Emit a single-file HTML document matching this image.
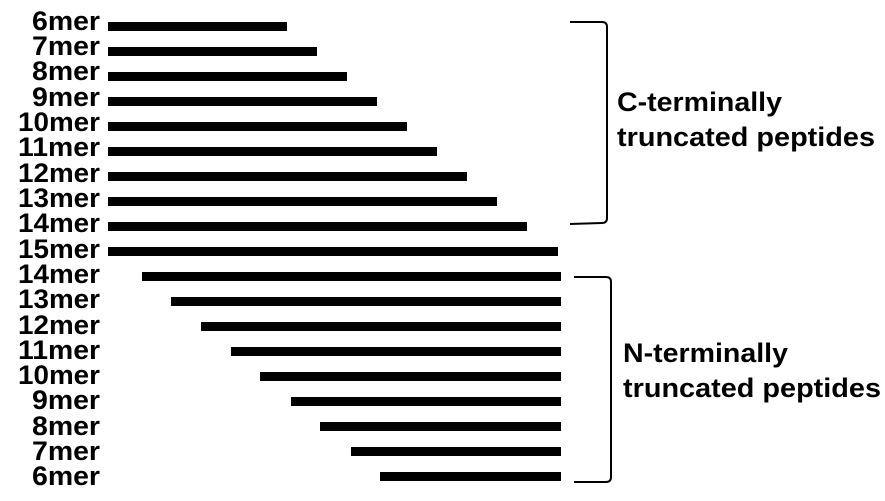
<!DOCTYPE html>
<html><head><style>html,body{margin:0;padding:0;background:#fff;}</style></head>
<body>
<svg width="885" height="496" viewBox="0 0 885 496" xmlns="http://www.w3.org/2000/svg" font-family="Liberation Sans, sans-serif" font-weight="bold">
<g fill="#000">
<rect x="108" y="22" width="179" height="9"/>
<rect x="108" y="47" width="209" height="9"/>
<rect x="108" y="72" width="239" height="9"/>
<rect x="108" y="97" width="269" height="9"/>
<rect x="108" y="122" width="299" height="9"/>
<rect x="108" y="147" width="329" height="9"/>
<rect x="108" y="172" width="359" height="9"/>
<rect x="108" y="197" width="389" height="9"/>
<rect x="108" y="222" width="419" height="9"/>
<rect x="108" y="247" width="450" height="9"/>
<rect x="142" y="272" width="419" height="9"/>
<rect x="171" y="297" width="390" height="9"/>
<rect x="201" y="322" width="360" height="9"/>
<rect x="231" y="347" width="330" height="9"/>
<rect x="260" y="372" width="301" height="9"/>
<rect x="291" y="397" width="270" height="9"/>
<rect x="320" y="422" width="241" height="9"/>
<rect x="351" y="447" width="210" height="9"/>
<rect x="380" y="472" width="181" height="9"/>
</g>
<g font-size="27" text-anchor="end" fill="#000">
<text x="100" y="30" textLength="68" lengthAdjust="spacingAndGlyphs">6mer</text>
<text x="100" y="55" textLength="68" lengthAdjust="spacingAndGlyphs">7mer</text>
<text x="100" y="80" textLength="68" lengthAdjust="spacingAndGlyphs">8mer</text>
<text x="100" y="106" textLength="68" lengthAdjust="spacingAndGlyphs">9mer</text>
<text x="100" y="131" textLength="82" lengthAdjust="spacingAndGlyphs">10mer</text>
<text x="100" y="156" textLength="82" lengthAdjust="spacingAndGlyphs">11mer</text>
<text x="100" y="182" textLength="82" lengthAdjust="spacingAndGlyphs">12mer</text>
<text x="100" y="207" textLength="82" lengthAdjust="spacingAndGlyphs">13mer</text>
<text x="100" y="232" textLength="82" lengthAdjust="spacingAndGlyphs">14mer</text>
<text x="100" y="258" textLength="82" lengthAdjust="spacingAndGlyphs">15mer</text>
<text x="100" y="283" textLength="82" lengthAdjust="spacingAndGlyphs">14mer</text>
<text x="100" y="308" textLength="82" lengthAdjust="spacingAndGlyphs">13mer</text>
<text x="100" y="334" textLength="82" lengthAdjust="spacingAndGlyphs">12mer</text>
<text x="100" y="359" textLength="82" lengthAdjust="spacingAndGlyphs">11mer</text>
<text x="100" y="384" textLength="82" lengthAdjust="spacingAndGlyphs">10mer</text>
<text x="100" y="409" textLength="68" lengthAdjust="spacingAndGlyphs">9mer</text>
<text x="100" y="435" textLength="68" lengthAdjust="spacingAndGlyphs">8mer</text>
<text x="100" y="460" textLength="68" lengthAdjust="spacingAndGlyphs">7mer</text>
<text x="100" y="485" textLength="68" lengthAdjust="spacingAndGlyphs">6mer</text>
</g>
<g fill="none" stroke="#000" stroke-width="2">
<path d="M570 22 L602 22 Q607 22 607 27 L607 218 Q607 223 602 223 L570 224"/>
<path d="M574 277 L606 277 Q611 277 611 282 L611 477 Q611 482 606 482 L574 482"/>
</g>
<g font-size="27" fill="#000">
<text x="617" y="111" textLength="165" lengthAdjust="spacingAndGlyphs">C-terminally</text>
<text x="617" y="146" textLength="258" lengthAdjust="spacingAndGlyphs">truncated peptides</text>
<text x="623" y="362" textLength="165" lengthAdjust="spacingAndGlyphs">N-terminally</text>
<text x="623" y="397" textLength="258" lengthAdjust="spacingAndGlyphs">truncated peptides</text>
</g>
</svg>
</body></html>
